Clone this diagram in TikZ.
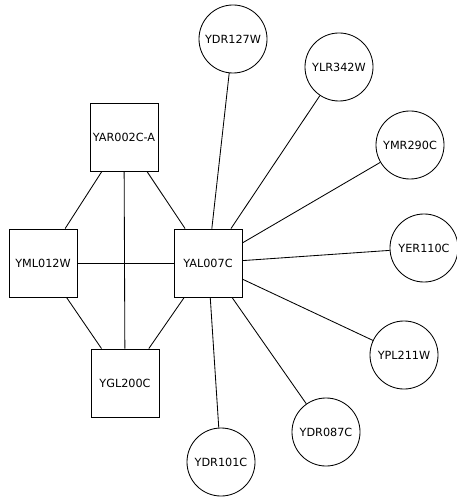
\documentclass[tikz,border=0pt]{standalone}
\usepackage{fontspec}
\setmainfont{DejaVu Sans}
\usepackage{tikz}

\begin{document}
\begin{tikzpicture}[x=0.025cm,y=-0.025cm,line width=0.6pt,
  gene/.style={draw,minimum size=1.7cm,inner sep=0pt,font=\fontsize{8}{9.6}\selectfont},
  partner/.style={draw,circle,minimum size=1.7cm,inner sep=0pt,font=\fontsize{8}{9.6}\selectfont}]
\useasboundingbox (0,0) rectangle (457,497);
\node[gene] (yar) at (124,137) {YAR002C-A};
\node[gene] (yml) at (43,263) {YML012W};
\node[gene] (yal) at (208,263) {YAL007C};
\node[gene] (ygl) at (125,383) {YGL200C};
\node[partner] (ydr127) at (233,39) {YDR127W};
\node[partner] (ylr) at (339,67) {YLR342W};
\node[partner] (ymr) at (410,145) {YMR290C};
\node[partner] (yer) at (424,248) {YER110C};
\node[partner] (ypl) at (404,355) {YPL211W};
\node[partner] (ydr087) at (326,432) {YDR087C};
\node[partner] (ydr101) at (221,462) {YDR101C};
\draw (yar) -- (yml);
\draw (yar) -- (yal);
\draw (yar) -- (ygl);
\draw (yml) -- (yal);
\draw (yml) -- (ygl);
\draw (ygl) -- (yal);
\draw (yal) -- (ydr127);
\draw (yal) -- (ylr);
\draw (yal) -- (ymr);
\draw (yal) -- (yer);
\draw (yal) -- (ypl);
\draw (yal) -- (ydr087);
\draw (yal) -- (ydr101);
\end{tikzpicture}
\end{document}
